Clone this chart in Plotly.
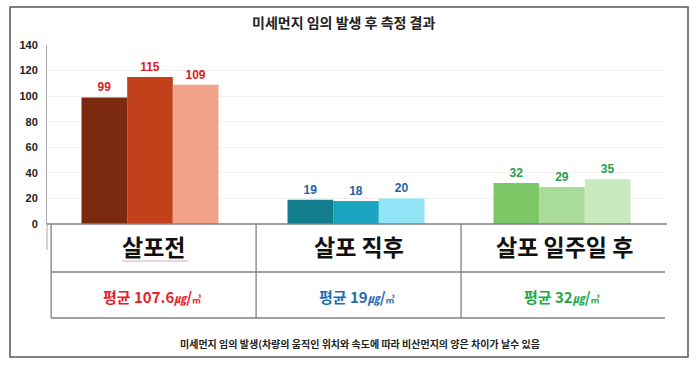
import plotly.graph_objects as go

categories = ["살포전", "살포 직후", "살포 일주일 후"]
series1 = [99, 19, 32]
series2 = [115, 18, 29]
series3 = [109, 20, 35]
averages = ["107.6", "19", "32"]
title_text = "미세먼지 임의 발생 후 측정 결과"
footnote = "미세먼지 임의 발생(차량의 움직인 위치와 속도에 따라 비산먼지의 양은 차이가 날수 있음"
y_ticks = [0, 20, 40, 60, 80, 100, 120, 140]

colors1 = ["#7B2A10", "#137F8E", "#7CC866"]
colors2 = ["#C2401A", "#1BA4C0", "#A9DC9A"]
colors3 = ["#F2A286", "#90E4F6", "#C9E9BE"]
label_colors = ["#E0201E", "#1F62AA", "#22A24E"]
avg_colors = ["#E8202A", "#1F6DB5", "#22A846"]

FONT = "Noto Sans CJK KR"
x = list(range(len(categories)))

fig = go.Figure()
for vals, cols in [(series1, colors1), (series2, colors2), (series3, colors3)]:
    fig.add_trace(go.Bar(
        x=x, y=vals, marker=dict(color=cols, line=dict(width=0)),
        text=vals, textposition="outside", cliponaxis=False,
        textfont=dict(color=label_colors, size=12, family="Liberation Sans", weight="bold"),
        showlegend=False, hoverinfo="skip",
    ))

L, R, T, B = 47, 33, 45, 141
W, H = 698, 365
pw, ph = W - L - R, H - T - B

def px(xp):
    return (xp - L) / pw

def py(yp):
    return (H - B - yp) / ph

shapes = []
shapes.append(dict(type="rect", xref="paper", yref="paper", x0=px(10), x1=px(688), y0=py(357), y1=py(7),
                   line=dict(color="#555555", width=1.5)))
shapes.append(dict(type="line", xref="paper", yref="paper", x0=0, x1=0, y0=py(250), y1=0,
                   line=dict(color="#AAAAAA", width=1)))
col_edges = [-0.48, 0.515, 1.51, 2.51]
gray = "#808080"
shapes.append(dict(type="line", xref="paper", yref="paper", x0=0, x1=px(667), y0=0, y1=0,
                   line=dict(color=gray, width=1.5)))
for yy in [py(272), py(318)]:
    shapes.append(dict(type="line", xref="x", yref="paper", x0=col_edges[0], x1=col_edges[-1], y0=yy, y1=yy,
                       line=dict(color=gray, width=1.3)))
for xe in col_edges:
    shapes.append(dict(type="line", xref="x", yref="paper", x0=xe, x1=xe, y0=py(318), y1=0,
                       line=dict(color=gray, width=1.3)))
# faint spell-check underline under first header
shapes.append(dict(type="line", xref="paper", yref="paper", x0=px(122), x1=px(188), y0=py(261), y1=py(261),
                   line=dict(color="#E3A5B5", width=1.2)))

annotations = []
annotations.append(dict(text="<b>" + title_text + "</b>", xref="paper", yref="paper", x=px(343), y=py(22),
                        xanchor="center", yanchor="middle",
                        showarrow=False, font=dict(size=14, color="#222222", family=FONT, weight="bold")))
for i, cat in enumerate(categories):
    cx = (col_edges[i] + col_edges[i + 1]) / 2
    annotations.append(dict(text="<b>" + cat + "</b>", xref="x", yref="paper", x=cx, y=py(246),
                            xanchor="center", yanchor="middle",
                            showarrow=False, font=dict(size=23, color="#111111", family=FONT, weight="bold")))
    annotations.append(dict(
        text="<b>평균 " + averages[i] + "<span style='font-size:12px'><i>㎍</i></span>/<span style='font-size:9px'>㎥</span></b>",
        xref="x", yref="paper", x=cx - 0.01, y=py(296), xanchor="center", yanchor="middle", showarrow=False,
        font=dict(size=15, color=avg_colors[i], family=FONT, weight="bold")))
annotations.append(dict(text="<b>" + footnote + "</b>", xref="paper", yref="paper", x=px(360), y=py(343),
                        xanchor="center", yanchor="middle",
                        showarrow=False, font=dict(size=10, color="#222222", family=FONT, weight="bold")))

fig.update_layout(
    width=W, height=H,
    margin=dict(l=L, r=R, t=T, b=B, pad=0),
    paper_bgcolor="white", plot_bgcolor="white",
    barmode="group", bargap=0.335, bargroupgap=0,
    xaxis=dict(range=[-0.5, 2.5], showticklabels=False, showgrid=False, zeroline=False, fixedrange=True),
    yaxis=dict(range=[0, 140], tickvals=y_ticks, showgrid=True, gridcolor="#F0F0F0", gridwidth=1,
               zeroline=False, showline=True, linecolor="#AAAAAA", linewidth=1,
               ticklabelstandoff=6, fixedrange=True,
               tickfont=dict(size=11, color="#222222", family="Liberation Sans", weight="bold")),
    shapes=shapes, annotations=annotations,
)

fig.write_html("out.html", config={"displayModeBar": False},
               post_script="document.body.style.margin='0';document.body.style.overflow='hidden';")
